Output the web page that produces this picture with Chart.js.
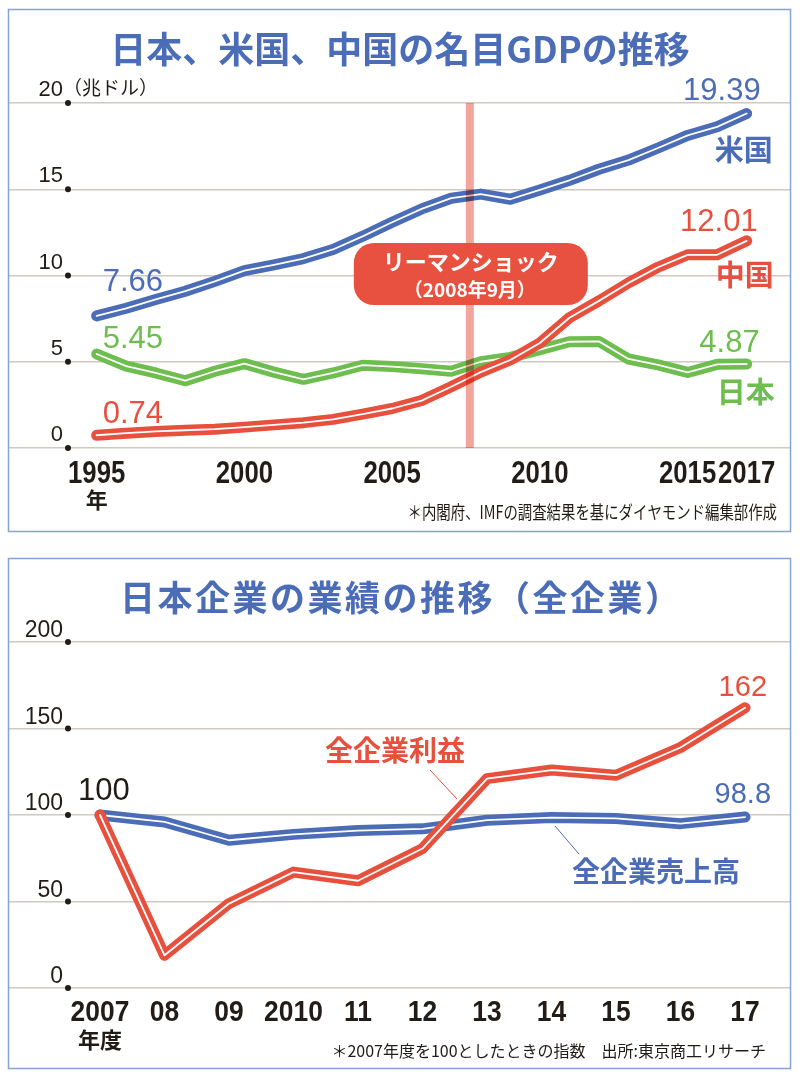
<!DOCTYPE html>
<html lang="ja">
<head>
<meta charset="utf-8">
<script src="https://cdn.jsdelivr.net/npm/chart.js@4.4.1/dist/chart.umd.min.js"></script>
<style>
  html, body { margin: 0; padding: 0; background: #fff; }
  #wrap { position: relative; width: 800px; height: 1082px; }
  #wrap canvas { position: absolute; left: 0; top: 0; }
</style>
</head>
<body>
<div id="wrap">
  <canvas id="gdp-chart" width="800" height="1082"></canvas>
  <canvas id="corp-chart" width="800" height="1082"></canvas>
</div>
<script>
// --- data: nominal GDP (trillion USD) ---
const gdpYears = [1995, 1996, 1997, 1998, 1999, 2000, 2001, 2002, 2003, 2004, 2005, 2006,
  2007, 2008, 2009, 2010, 2011, 2012, 2013, 2014, 2015, 2016, 2017];
const usGdp = [7.66, 8.10, 8.61, 9.09, 9.66, 10.28, 10.62, 10.98, 11.51, 12.27, 13.09, 13.86,
  14.48, 14.72, 14.42, 14.96, 15.52, 16.16, 16.69, 17.39, 18.12, 18.62, 19.39];
const chinaGdp = [0.74, 0.86, 0.96, 1.03, 1.09, 1.21, 1.34, 1.47, 1.66, 1.96, 2.29, 2.75,
  3.55, 4.40, 5.10, 6.09, 7.55, 8.53, 9.57, 10.48, 11.20, 11.20, 12.01];
const japanGdp = [5.45, 4.75, 4.35, 3.90, 4.45, 4.89, 4.40, 3.98, 4.35, 4.80, 4.72, 4.60,
  4.45, 5.00, 5.25, 5.70, 6.16, 6.18, 5.16, 4.82, 4.38, 4.85, 4.87];
const gdpTickYears = [1995, 2000, 2005, 2010, 2015, 2017];
const gdpTickValues = [0, 5, 10, 15, 20];
const lehmanYear = 2007.63;

// --- data: Japanese corporate results (FY2007 = 100) ---
const fiscalYears = [2007, 2008, 2009, 2010, 2011, 2012, 2013, 2014, 2015, 2016, 2017];
const fiscalLabels = ['2007', '08', '09', '2010', '11', '12', '13', '14', '15', '16', '17'];
const salesIndex = [100, 96, 85.4, 88.8, 91, 92, 97, 98.5, 98, 95, 98.8];
const profitIndex = [100, 18.9, 48.8, 67, 62, 80.6, 121, 126, 123, 139, 162];
const indexTickValues = [0, 50, 100, 150, 200];

const BLUE = '#4b6cb6';
const RED = '#e8503e';
const GREEN = '#6dbd4f';
const INK = '#221c18';
const GRID = '#cfc9bf';
const FRAME = '#86a3d8';
const JP = '"Noto Sans CJK JP", sans-serif';
const NUM = '"Liberation Sans", Arial, sans-serif';

function text(ctx, str, x, y, font, color, align = 'left', sx = 1, spacing = '0px') {
  ctx.save();
  ctx.font = font;
  ctx.fillStyle = color;
  ctx.textAlign = align;
  ctx.textBaseline = 'alphabetic';
  ctx.letterSpacing = spacing;
  ctx.translate(x, y);
  ctx.scale(sx, 1);
  ctx.fillText(str, 0, 0);
  ctx.restore();
}

function roundBox(ctx, x, y, w, h, r, color) {
  ctx.save();
  ctx.beginPath();
  ctx.moveTo(x + r, y);
  ctx.arcTo(x + w, y, x + w, y + h, r);
  ctx.arcTo(x + w, y + h, x, y + h, r);
  ctx.arcTo(x, y + h, x, y, r);
  ctx.arcTo(x, y, x + w, y, r);
  ctx.closePath();
  ctx.fillStyle = color;
  ctx.fill();
  ctx.restore();
}

function frame(ctx, top, bottom) {
  ctx.save();
  ctx.strokeStyle = FRAME;
  ctx.lineWidth = 1.5;
  ctx.strokeRect(8.5, top + 0.5, 782, bottom - top);
  ctx.restore();
}

function yAxisMarks(chart, values, font, dy) {
  const { ctx, scales: { y } } = chart;
  values.forEach((v) => {
    const py = y.getPixelForValue(v);
    ctx.beginPath();
    ctx.arc(68, py, 3, 0, Math.PI * 2);
    ctx.fillStyle = INK;
    ctx.fill();
    text(ctx, String(v), 63, py - dy, font, INK, 'right');
  });
}

function pt(chart, ds, i) {
  const p = chart.getDatasetMeta(ds).data[i];
  return { x: p.x, y: p.y };
}

// thin white core along each thick line
Chart.register({
  id: 'whiteCore',
  afterDatasetDraw(chart, args) {
    const pts = args.meta.data;
    const ctx = chart.ctx;
    ctx.save();
    ctx.beginPath();
    pts.forEach((p, i) => (i ? ctx.lineTo(p.x, p.y) : ctx.moveTo(p.x, p.y)));
    ctx.strokeStyle = '#ffffff';
    ctx.lineWidth = 1.8;
    ctx.lineJoin = 'round';
    ctx.lineCap = 'round';
    ctx.stroke();
    ctx.restore();
  }
});

function series(label, xs, ys, color) {
  return {
    label: label,
    data: xs.map((x, i) => ({ x: x, y: ys[i] })),
    borderColor: color,
    borderWidth: 11,
    pointRadius: 0,
    tension: 0,
    borderCapStyle: 'round',
    borderJoinStyle: 'round',
    clip: false,
  };
}

function baseOptions(xMin, xMax, yMax, step, padTop, padBottom) {
  return {
    responsive: false,
    animation: false,
    events: [],
    layout: { padding: { left: 8, right: 9, top: padTop, bottom: padBottom } },
    scales: {
      x: { type: 'linear', display: false, min: xMin, max: xMax },
      y: {
        min: 0,
        max: yMax,
        ticks: { display: false, stepSize: step },
        grid: { color: GRID, lineWidth: 1.5, drawTicks: false },
        border: { display: false },
      },
    },
    plugins: { legend: { display: false }, tooltip: { enabled: false } },
  };
}

// ---------- GDP chart ----------
const gdpDecor = {
  id: 'gdpDecor',
  afterDatasetsDraw(chart) {
    const { ctx, scales: { x, y } } = chart;
    const bx = x.getPixelForValue(lehmanYear);
    ctx.save();
    ctx.globalCompositeOperation = 'multiply';
    ctx.fillStyle = '#f3a59c';
    ctx.fillRect(bx - 4, y.top, 8, y.bottom - y.top);
    ctx.restore();
  },
  afterDraw(chart) {
    const { ctx, scales: { x } } = chart;
    frame(ctx, 9, 531);
    text(ctx, '日本、米国、中国の名目GDPの推移', 400, 63, 'bold 36px ' + JP, BLUE, 'center');

    yAxisMarks(chart, gdpTickValues, '22px ' + NUM, 7);
    text(ctx, '（兆ドル）', 63, 95, '19px ' + JP, INK, 'left');

    gdpTickYears.forEach((yr) => {
      text(ctx, String(yr), x.getPixelForValue(yr), 483, 'bold 31px ' + NUM, INK, 'center', 0.83);
    });
    text(ctx, '年', x.getPixelForValue(gdpTickYears[0]), 508, 'bold 22px ' + JP, INK, 'center');

    // Lehman shock callout
    const bx = x.getPixelForValue(lehmanYear);
    roundBox(ctx, bx - 116, 243, 234, 62, 20, '#e8513f');
    text(ctx, 'リーマンショック', bx + 1, 270, 'bold 22px ' + JP, '#fff', 'center');
    text(ctx, '（2008年9月）', bx, 297, 'bold 19px ' + JP, '#fff', 'center');

    // series values and names (China = 0, US = 1, Japan = 2)
    const last = gdpYears.length - 1;
    const valFont = '31px ' + NUM;
    const nameFont = 'bold 29px ' + JP;
    let p = pt(chart, 1, 0);
    text(ctx, usGdp[0].toFixed(2), p.x + 6, p.y - 25, valFont, BLUE);
    p = pt(chart, 2, 0);
    text(ctx, japanGdp[0].toFixed(2), p.x + 6, p.y - 6, valFont, GREEN);
    p = pt(chart, 0, 0);
    text(ctx, chinaGdp[0].toFixed(2), p.x + 6, p.y - 12, valFont, RED);

    p = pt(chart, 1, last);
    text(ctx, usGdp[last].toFixed(2), p.x + 14, p.y - 14, valFont, BLUE, 'right');
    text(ctx, '米国', p.x - 32, p.y + 47, nameFont, BLUE);
    p = pt(chart, 0, last);
    text(ctx, chinaGdp[last].toFixed(2), p.x + 11, p.y - 10, valFont, RED, 'right');
    text(ctx, '中国', p.x - 31, p.y + 45, nameFont, RED);
    p = pt(chart, 2, last);
    text(ctx, japanGdp[last].toFixed(2), p.x + 13, p.y - 12, valFont, GREEN, 'right');
    text(ctx, '日本', p.x - 30, p.y + 39, nameFont, GREEN);

    text(ctx, '＊内閣府、IMFの調査結果を基にダイヤモンド編集部作成', 777, 519, '18px ' + JP, INK, 'right', 0.8);
  },
};

new Chart(document.getElementById('gdp-chart'), {
  type: 'line',
  data: {
    datasets: [
      series('中国', gdpYears, chinaGdp, RED),
      series('米国', gdpYears, usGdp, BLUE),
      series('日本', gdpYears, japanGdp, GREEN),
    ],
  },
  options: baseOptions(1992, 2018.5, 20, 5, 103, 1082 - 448),
  plugins: [gdpDecor],
});

// ---------- corporate results chart ----------
const corpDecor = {
  id: 'corpDecor',
  afterDraw(chart) {
    const { ctx, scales: { x } } = chart;
    frame(ctx, 558, 1068);
    text(ctx, '日本企業の業績の推移（全企業）', 120, 611, 'bold 35px ' + JP, BLUE, 'left', 1, '2.5px');

    yAxisMarks(chart, indexTickValues, '23px ' + NUM, 5);
    fiscalYears.forEach((yr, i) => {
      text(ctx, fiscalLabels[i], x.getPixelForValue(yr), 1021, 'bold 30px ' + NUM, INK, 'center', 0.88);
    });
    text(ctx, '年度', x.getPixelForValue(fiscalYears[0]), 1048, 'bold 22px ' + JP, INK, 'center');

    const last = fiscalYears.length - 1;
    let p = pt(chart, 0, 0);
    text(ctx, String(profitIndex[0]), p.x - 22, p.y - 15, '31px ' + NUM, INK);
    p = pt(chart, 0, last);
    text(ctx, String(profitIndex[last]), p.x + 22, p.y - 12, '29px ' + NUM, RED, 'right');
    p = pt(chart, 1, last);
    text(ctx, String(salesIndex[last]), p.x + 26, p.y - 14, '29px ' + NUM, BLUE, 'right');

    // series names with leader lines
    text(ctx, '全企業利益', 325, 761, 'bold 28px ' + JP, RED);
    text(ctx, '全企業売上高', 572, 882, 'bold 28px ' + JP, BLUE);
    ctx.save();
    ctx.lineWidth = 1;
    ctx.strokeStyle = RED;
    ctx.beginPath();
    ctx.moveTo(430, 770);
    ctx.lineTo(457, 799);
    ctx.stroke();
    ctx.strokeStyle = BLUE;
    ctx.beginPath();
    ctx.moveTo(555, 826);
    ctx.lineTo(579, 854);
    ctx.stroke();
    ctx.restore();

    text(ctx, '＊2007年度を100としたときの指数　出所:東京商工リサーチ', 766, 1057, '16px ' + JP, INK, 'right');
  },
};

new Chart(document.getElementById('corp-chart'), {
  type: 'line',
  data: {
    datasets: [
      series('全企業利益', fiscalYears, profitIndex, RED),
      series('全企業売上高', fiscalYears, salesIndex, BLUE),
    ],
  },
  options: baseOptions(2005.574, 2017.713, 200, 50, 642, 1082 - 988),
  plugins: [corpDecor],
});
</script>
</body>
</html>
